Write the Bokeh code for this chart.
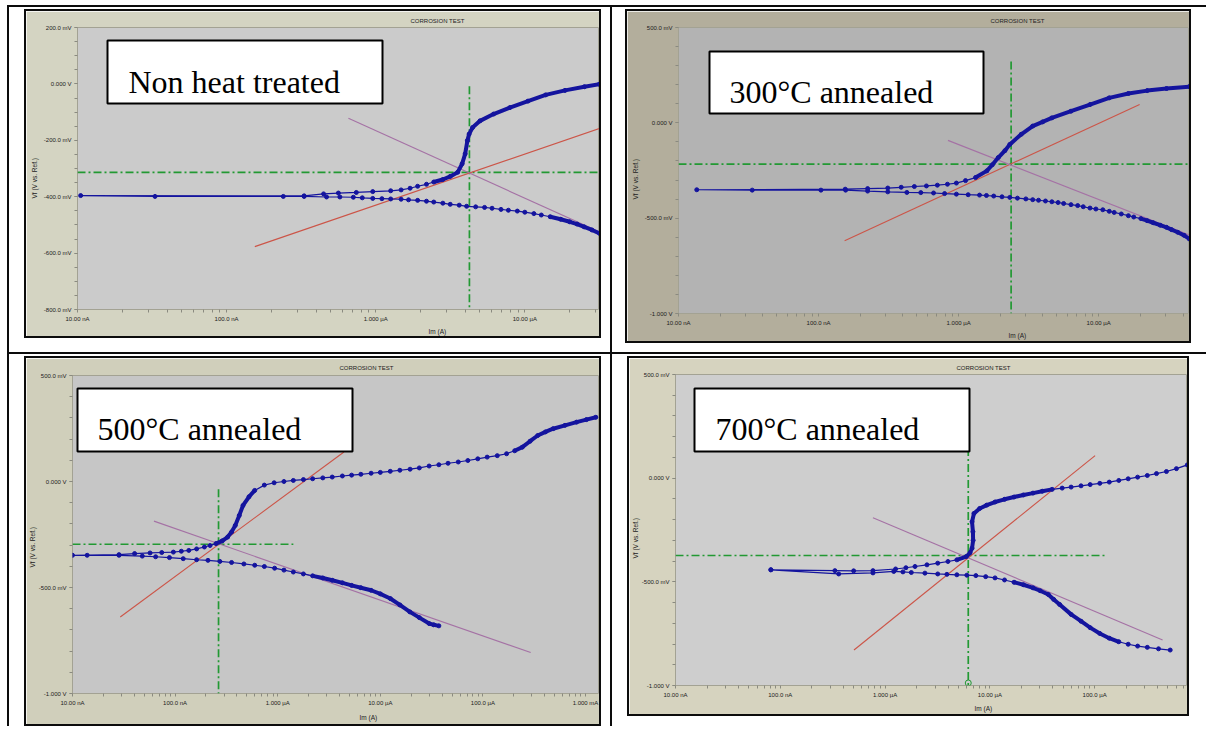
from bokeh.plotting import figure
from bokeh.layouts import column, row
from bokeh.models import FixedTicker, BoxAnnotation, Label, Range1d, Title, Div
from bokeh.embed import file_html
from bokeh.resources import INLINE

# ---------------- texts ----------------
PANEL_LABELS = ["Non heat treated", "300°C annealed", "500°C annealed", "700°C annealed"]
PLOT_TITLE = "CORROSION TEST"
X_AXIS_LABEL = "Im (A)"
Y_AXIS_LABEL = "Vf (V vs. Ref.)"

X_TICKS = [1e-8, 1e-7, 1e-6, 1e-5, 1e-4, 1e-3]
X_TICK_LABELS = ["10.00 nA", "100.0 nA", "1.000 µA", "10.00 µA", "100.0 µA", "1.000 mA"]
Y_TICKS_A = [200, 0, -200, -400, -600, -800]
Y_TICK_LABELS_A = ["200.0 mV", "0.000 V", "-200.0 mV", "-400.0 mV", "-600.0 mV", "-800.0 mV"]
Y_TICKS_B = [500, 0, -500, -1000]
Y_TICK_LABELS_B = ["500.0 mV", "0.000 V", "-500.0 mV", "-1.000 V"]

# ---------------- data (current in A, potential in mV) ----------------
# Non heat treated
P1_CATH_I = [3.17e-5, 2.82e-5, 2.50e-5, 2.24e-5, 2.00e-5, 1.74e-5, 1.48e-5, 1.29e-5, 1.15e-5, 1.00e-5,
             8.91e-6, 7.76e-6, 6.92e-6, 6.03e-6, 5.37e-6, 4.68e-6, 4.07e-6, 3.63e-6, 3.16e-6, 2.82e-6,
             2.45e-6, 2.19e-6, 1.91e-6, 1.66e-6, 1.48e-6, 1.26e-6, 1.10e-6, 9.55e-7, 8.13e-7, 7.08e-7,
             5.75e-7, 4.68e-7, 3.31e-7, 2.40e-7, 3.31e-8, 1.05e-8]
P1_CATH_V = [-530, -518, -507, -497, -489, -480, -471, -465, -460, -455,
             -451, -448, -445, -441, -438, -436, -434, -430, -427, -423,
             -419, -416, -413, -411, -409, -408, -407, -406, -404, -402,
             -401, -401, -399, -399, -399, -396]
P1_ANOD_I = [3.31e-7, 4.47e-7, 5.62e-7, 7.41e-7, 9.55e-7, 1.26e-6, 1.48e-6, 1.70e-6, 1.91e-6, 2.19e-6,
             2.45e-6, 2.82e-6, 3.16e-6, 3.55e-6, 3.80e-6, 3.98e-6, 4.12e-6, 4.23e-6, 4.46e-6, 5.01e-6,
             6.17e-6, 7.94e-6, 1.05e-5, 1.38e-5, 1.86e-5, 2.51e-5, 3.16e-5]
P1_ANOD_V = [-397, -390, -387, -385, -382, -379, -376, -370, -363, -356,
             -348, -339, -328, -313, -283, -248, -201, -178, -155, -131,
             -107, -84, -61, -39, -23, -10, -1]
P1_ANODIC_FIT_I = [1.545e-7, 3.17e-5]
P1_ANODIC_FIT_V = [-577, -158]
P1_CATHODIC_FIT_I = [6.56e-7, 3.17e-5]
P1_CATHODIC_FIT_V = [-122, -525]
P1_ICORR = 4.25e-6
P1_ECORR = -314

# 300 C annealed
P2_CATH_I = [4.44e-5, 4.07e-5, 3.67e-5, 3.31e-5, 3.05e-5, 2.75e-5, 2.45e-5, 2.22e-5, 2.00e-5, 1.78e-5,
             1.63e-5, 1.45e-5, 1.29e-5, 1.19e-5, 1.07e-5, 9.55e-6, 8.67e-6, 7.76e-6, 7.08e-6, 6.34e-6,
             5.62e-6, 5.13e-6, 4.63e-6, 4.17e-6, 3.72e-6, 3.38e-6, 3.02e-6, 2.63e-6, 2.32e-6, 2.04e-6,
             1.78e-6, 1.58e-6, 1.41e-6, 1.17e-6, 9.64e-7, 7.94e-7, 6.62e-7, 5.37e-7, 4.27e-7, 3.12e-7,
             2.24e-7, 1.56e-7, 1.04e-7, 3.36e-8, 1.35e-8]
P2_CATH_V = [-609, -590, -574, -560, -548, -537, -524, -513, -502, -494,
             -487, -478, -470, -464, -456, -452, -447, -440, -434, -429,
             -423, -418, -414, -410, -406, -403, -399, -395, -391, -388,
             -384, -381, -379, -377, -374, -371, -368, -366, -365, -362,
             -358, -353, -353, -353, -351]
P2_ANOD_I = [1.55e-7, 2.24e-7, 3.12e-7, 3.89e-7, 4.83e-7, 5.89e-7, 7.05e-7, 8.32e-7, 9.64e-7, 1.12e-6,
             1.32e-6, 1.59e-6, 1.74e-6, 1.92e-6, 2.14e-6, 2.32e-6, 2.80e-6, 3.38e-6, 3.98e-6, 4.63e-6,
             6.34e-6, 8.67e-6, 1.19e-5, 1.63e-5, 2.22e-5, 3.05e-5, 4.44e-5]
P2_ANOD_V = [-348, -345, -342, -338, -334, -331, -327, -322, -316, -303,
             -287, -252, -220, -182, -146, -113, -60, -17, 5, 26,
             61, 96, 131, 154, 169, 180, 190]
P2_ANODIC_FIT_I = [1.535e-7, 1.96e-5]
P2_ANODIC_FIT_V = [-618, 96]
P2_CATHODIC_FIT_I = [8.39e-7, 4.43e-5]
P2_CATHODIC_FIT_V = [-92, -588]
P2_ICORR = 2.37e-6
P2_ECORR = -217

# 500 C annealed
P3_CATH_I = [3.72e-5, 3.31e-5, 2.99e-5, 2.40e-5, 1.94e-5, 1.55e-5, 1.25e-5, 1.00e-5, 8.11e-6, 6.46e-6,
             5.25e-6, 4.27e-6, 3.40e-6, 2.75e-6, 2.19e-6, 1.78e-6, 1.42e-6, 1.15e-6, 9.33e-7, 7.41e-7,
             5.97e-7, 4.68e-7, 3.55e-7, 2.73e-7, 2.09e-7, 1.62e-7, 1.20e-7, 8.81e-8, 6.46e-8, 4.79e-8,
             2.84e-8, 1.39e-8, 1.0e-8]
P3_CATH_V = [-681, -676, -670, -642, -615, -582, -552, -530, -513, -501,
             -490, -478, -466, -455, -445, -436, -427, -418, -409, -401,
             -395, -389, -382, -377, -372, -369, -364, -359, -355, -352,
             -348, -348, -348]
P3_ANOD_I = [2.84e-8, 4.03e-8, 5.70e-8, 7.41e-8, 9.62e-8, 1.15e-7, 1.36e-7, 1.62e-7, 1.93e-7, 2.19e-7,
             2.50e-7, 2.88e-7, 3.25e-7, 3.55e-7, 3.86e-7, 4.22e-7, 4.59e-7, 5.25e-7, 5.97e-7, 7.41e-7,
             9.23e-7, 1.15e-6, 1.42e-6, 1.78e-6, 2.19e-6, 2.75e-6, 3.40e-6, 4.27e-6, 5.25e-6, 6.46e-6,
             8.13e-6, 1.00e-5, 1.25e-5, 1.55e-5, 1.95e-5, 2.40e-5, 2.99e-5, 3.72e-5, 4.57e-5, 5.75e-5,
             7.13e-5, 8.91e-5, 1.10e-4, 1.38e-4, 1.70e-4, 2.04e-4, 2.42e-4, 2.88e-4, 3.42e-4, 4.07e-4,
             4.83e-4, 6.31e-4, 8.17e-4, 1.02e-3, 1.26e-3]
P3_ANOD_V = [-345, -340, -337, -335, -333, -329, -325, -318, -309, -302,
             -293, -280, -262, -238, -207, -160, -113, -72, -42, -17,
             -6, 0, 5, 9, 13, 17, 21, 26, 30, 34,
             39, 43, 48, 53, 58, 64, 73, 79, 86, 92,
             99, 107, 115, 122, 131, 145, 162, 190, 217, 234,
             249, 265, 280, 292, 303]
P3_ANODIC_FIT_I = [2.92e-8, 4.42e-6]
P3_ANODIC_FIT_V = [-639, 139]
P3_CATHODIC_FIT_I = [6.22e-8, 2.92e-4]
P3_CATHODIC_FIT_V = [-187, -807]
P3_ICORR = 2.65e-7
P3_ECORR = -296

# 700 C annealed
P4_CATH_I = [5.26e-4, 4.07e-4, 3.18e-4, 2.57e-4, 2.09e-4, 1.70e-4, 1.38e-4, 1.12e-4, 9.06e-5, 7.41e-5,
             5.96e-5, 4.63e-5, 4.07e-5, 3.61e-5, 3.02e-5, 2.58e-5, 2.09e-5, 1.70e-5, 1.38e-5, 1.12e-5,
             9.12e-6, 7.35e-6, 6.03e-6, 4.84e-6, 3.89e-6, 3.18e-6, 2.40e-6, 1.78e-6, 1.48e-6, 1.21e-6,
             7.66e-7, 3.61e-7, 8.13e-8]
P4_CATH_V = [-829, -823, -816, -810, -801, -789, -772, -749, -721, -690,
             -657, -609, -585, -561, -543, -529, -514, -502, -491, -481,
             -475, -470, -468, -466, -464, -462, -458, -455, -452, -450,
             -457, -462, -442]
P4_ANOD_I = [8.13e-8, 3.32e-7, 5.01e-7, 7.66e-7, 1.26e-6, 1.58e-6, 1.93e-6, 2.51e-6, 3.18e-6, 3.98e-6,
             4.84e-6, 5.96e-6, 6.46e-6, 6.76e-6, 6.92e-6, 6.89e-6, 6.76e-6, 7.05e-6, 8.00e-6, 9.33e-6,
             1.12e-5, 1.38e-5, 1.70e-5, 2.09e-5, 2.58e-5, 3.16e-5, 3.93e-5, 4.90e-5, 5.96e-5, 7.41e-5,
             9.06e-5, 1.12e-4, 1.38e-4, 1.70e-4, 2.09e-4, 2.57e-4, 3.18e-4, 3.89e-4, 4.84e-4, 6.03e-4,
             7.66e-4]
P4_ANOD_V = [-442, -446, -447, -446, -438, -432, -426, -418, -410, -402,
             -394, -378, -360, -338, -300, -258, -210, -170, -146, -130,
             -115, -102, -91, -81, -72, -63, -54, -48, -43, -37,
             -31, -25, -19, -11, -3, 5, 13, 22, 32, 46,
             64]
P4_ANODIC_FIT_I = [5.05e-7, 1.01e-4]
P4_ANODIC_FIT_V = [-829, 109]
P4_CATHODIC_FIT_I = [7.66e-7, 4.45e-4]
P4_CATHODIC_FIT_V = [-191, -780]
P4_ICORR = 6.22e-6
P4_ECORR = -373

DATA = [
    dict(ci=P1_CATH_I, cv=P1_CATH_V, ai=P1_ANOD_I, av=P1_ANOD_V, ri=P1_ANODIC_FIT_I, rv=P1_ANODIC_FIT_V,
         pi=P1_CATHODIC_FIT_I, pv=P1_CATHODIC_FIT_V, icorr=P1_ICORR, ecorr=P1_ECORR),
    dict(ci=P2_CATH_I, cv=P2_CATH_V, ai=P2_ANOD_I, av=P2_ANOD_V, ri=P2_ANODIC_FIT_I, rv=P2_ANODIC_FIT_V,
         pi=P2_CATHODIC_FIT_I, pv=P2_CATHODIC_FIT_V, icorr=P2_ICORR, ecorr=P2_ECORR),
    dict(ci=P3_CATH_I, cv=P3_CATH_V, ai=P3_ANOD_I, av=P3_ANOD_V, ri=P3_ANODIC_FIT_I, rv=P3_ANODIC_FIT_V,
         pi=P3_CATHODIC_FIT_I, pv=P3_CATHODIC_FIT_V, icorr=P3_ICORR, ecorr=P3_ECORR),
    dict(ci=P4_CATH_I, cv=P4_CATH_V, ai=P4_ANOD_I, av=P4_ANOD_V, ri=P4_ANODIC_FIT_I, rv=P4_ANODIC_FIT_V,
         pi=P4_CATHODIC_FIT_I, pv=P4_CATHODIC_FIT_V, icorr=P4_ICORR, ecorr=P4_ECORR),
]
for d in DATA:
    assert len(d["ci"]) == len(d["cv"]) and len(d["ai"]) == len(d["av"])

# ---------------- layout / style (pixels) ----------------
BLUE = "#14149e"
RED = "#cc5548"
PURPLE = "#a572a5"
GREEN = "#229933"
RULE = "#0c0c0c"

# each figure is the inside of the instrument window (tan), framed by 2px rules
CFG = [
    dict(w=573, h=325, mb=(50, 0, 15, 26), x_end=3.168e-5, y=(-800, 200),
         yt=(Y_TICKS_A, Y_TICK_LABELS_A), ystep=50, tan="#d4d4c2", gray="#cbcbcb",
         box=(81, 29, 356, 92), txt=(102, 70), t_off=333, t_sd=8, x_off=351, x_sd=3,
         y_off=111, y_sd=5,
         gv=(-8, -800), gh=(1e-8, 3.168e-5), circle=None,
         dense_a=[(2.4e-6, 1e-2)], dense_c=[(1.4e-5, 1e-2)]),
    dict(w=562, h=330, mb=(49, 0, 15, 28), x_end=4.45e-5, y=(-1000, 500),
         yt=(Y_TICKS_B, Y_TICK_LABELS_B), ystep=100, tan="#b3ae9c", gray="#b3b3b3",
         box=(82, 40, 356, 102), txt=(102, 80), t_off=312, t_sd=8, x_off=330, x_sd=3,
         y_off=114, y_sd=5,
         gv=(322, -1000), gh=(1e-8, 4.45e-5), circle=None,
         dense_a=[(1.3e-6, 1e-2)], dense_c=[(1.9e-5, 1e-2)]),
    dict(w=573, h=366, mb=(44, 0, 17, 31), x_end=1.368e-3, y=(-1000, 500),
         yt=(Y_TICKS_B, Y_TICK_LABELS_B), ystep=100, tan="#d0cfbb", gray="#c6c6c6",
         box=(51, 30, 326, 93), txt=(71, 70), t_off=267, t_sd=9, x_off=287, x_sd=7,
         y_off=126, y_sd=0,
         gv=(-37, -1000), gh=(1e-8, 1.42e-6), circle=None,
         dense_a=[(2.4e-7, 6.0e-7), (1.9e-4, 1e-2)], dense_c=[(2.0e-6, 1e-2)]),
    dict(w=558, h=356, mb=(43, 0, 15, 27), x_end=7.69e-4, y=(-1000, 500),
         yt=(Y_TICKS_B, Y_TICK_LABELS_B), ystep=100, tan="#d6d3bf", gray="#cecece",
         box=(65, 30, 340, 93), txt=(86, 70), t_off=281, t_sd=8, x_off=299, x_sd=5,
         y_off=127, y_sd=0,
         gv=(300, -1000), gh=(1e-8, 1.265e-4), circle=-988,
         dense_a=[(4.8e-6, 4.0e-5)], dense_c=[(1.7e-5, 1.8e-4)]),
]


def canvas_box(l, t, r, b, **kw):
    return BoxAnnotation(left=l, right=r, top=t, bottom=b,
                         left_units="canvas", right_units="canvas",
                         top_units="canvas", bottom_units="canvas", **kw)


def runs(xs, ys, ranges):
    out = []
    for lo, hi in ranges:
        cx, cy = [], []
        for a, b in zip(xs, ys):
            if lo <= a <= hi:
                cx.append(a)
                cy.append(b)
            else:
                if len(cx) > 1:
                    out.append((cx, cy))
                cx, cy = [], []
        if len(cx) > 1:
            out.append((cx, cy))
    return out


def small_title(text, align, offset, standoff, size):
    return Title(text=text, align=align, offset=offset, standoff=standoff,
                 text_font="Liberation Sans", text_font_size=size, text_font_style="normal",
                 text_color="#222222")


def build(i):
    c = CFG[i]
    d = DATA[i]
    ml, mr, mt, mbt = c["mb"]
    p = figure(width=c["w"], height=c["h"], x_axis_type="log",
               x_range=Range1d(1e-8, c["x_end"]), y_range=Range1d(*c["y"]),
               output_backend="svg", toolbar_location=None,
               min_border_left=ml, min_border_right=mr, min_border_top=mt, min_border_bottom=mbt)
    p.border_fill_color = c["tan"]
    p.background_fill_color = c["gray"]
    p.outline_line_color = "#a3a293"
    p.outline_line_width = 1
    p.xgrid.visible = False
    p.ygrid.visible = False

    p.title = small_title(PLOT_TITLE, "left", c["t_off"], c["t_sd"], "6px")
    p.add_layout(small_title(X_AXIS_LABEL, "left", c["x_off"], c["x_sd"], "6.5px"), "below")

    # axes
    xa = p.xaxis[0]
    minor = []
    for e in range(-8, -2):
        for k in range(2, 10):
            minor.append(k * 10.0 ** e)
    xa.ticker = FixedTicker(ticks=X_TICKS, minor_ticks=minor)
    xa.major_label_overrides = {t: s for t, s in zip(X_TICKS, X_TICK_LABELS)}
    ya = p.yaxis[0]
    yt, yl = c["yt"]
    ya.ticker = FixedTicker(ticks=yt, minor_ticks=list(range(c["y"][0], c["y"][1] + 1, c["ystep"])))
    ya.major_label_overrides = {t: s for t, s in zip(yt, yl)}
    for ax in (xa, ya):
        ax.axis_line_color = None
        ax.major_tick_line_color = "#8a8a80"
        ax.minor_tick_line_color = "#8a8a80"
        ax.major_tick_in = 0
        ax.major_tick_out = 3
        ax.minor_tick_in = 0
        ax.minor_tick_out = 3
        ax.major_label_text_font = "Liberation Sans"
        ax.major_label_text_font_size = "6px"
        ax.major_label_text_color = "#202020"
    xa.major_label_standoff = 3
    ya.major_label_standoff = 3
    p.add_layout(small_title(Y_AXIS_LABEL, "left", c["y_off"], c["y_sd"], "6.5px"), "left")

    # Ecorr / Icorr cursor lines
    gv0, gv1 = c["gv"]
    gh0, gh1 = c["gh"]
    p.line([d["icorr"], d["icorr"]], [gv0, gv1], line_color=GREEN, line_width=1.7, line_dash="8 3 2 3")
    p.line([gh0, gh1], [d["ecorr"], d["ecorr"]], line_color=GREEN, line_width=1.7, line_dash="8 3 2 3")
    if c["circle"] is not None:
        p.scatter([d["icorr"]], [c["circle"]], size=6, marker="circle", fill_color=None, line_color=GREEN)

    # Tafel fits
    p.line(d["ri"], d["rv"], line_color=RED, line_width=1.1)
    p.line(d["pi"], d["pv"], line_color=PURPLE, line_width=1.1)

    # polarisation scan
    si = d["ci"] + d["ai"]
    sv = d["cv"] + d["av"]
    p.line(si, sv, line_color=BLUE, line_width=1.2)
    for xs, ys in runs(d["ci"], d["cv"], c["dense_c"]) + runs(d["ai"], d["av"], c["dense_a"]):
        p.line(xs, ys, line_color=BLUE, line_width=4)
    p.scatter(si, sv, size=4, marker="circle", fill_color=BLUE, line_color=BLUE)

    # sample label box
    l, t, r, b = c["box"]
    p.add_layout(canvas_box(l, t, r, b, fill_color="white", fill_alpha=1,
                            line_color="black", line_alpha=1, line_width=2))
    p.add_layout(Label(x=c["txt"][0], y=c["txt"][1], x_units="canvas", y_units="canvas",
                       text=PANEL_LABELS[i], text_font="Liberation Serif", text_font_size="32px",
                       text_align="left", text_baseline="alphabetic", text_color="black"))
    return p


def blk(w, h):
    return Div(text="", width=w, height=h, margin=0, styles={"background-color": RULE})


def gap(w, h):
    return Div(text="", width=w, height=h, margin=0)


def framed(fig, w, h):
    return column(blk(w + 4, 2), row(blk(2, h), fig, blk(2, h)), blk(w + 4, 2))


figs = [build(i) for i in range(4)]
cell1 = column(gap(601, 2), row(gap(15, 329), framed(figs[0], 573, 325), gap(9, 329)), gap(601, 14))
cell2 = column(gap(579, 2), row(gap(13, 334), framed(figs[1], 562, 330)), gap(579, 9))
cell3 = column(gap(601, 2), row(gap(15, 370), framed(figs[2], 573, 366), gap(9, 370)))
cell4 = column(gap(577, 2), row(gap(15, 360), framed(figs[3], 558, 356)), gap(577, 10))

layout = column(
    gap(1206, 5),
    row(gap(7, 2), blk(1199, 2)),
    row(gap(7, 345), blk(2, 345), cell1, blk(2, 345), cell2),
    row(gap(7, 2), blk(1199, 2)),
    row(gap(7, 372), blk(2, 372), cell3, blk(2, 372), cell4),
)
open("out.html", "w").write(file_html(layout, INLINE))
